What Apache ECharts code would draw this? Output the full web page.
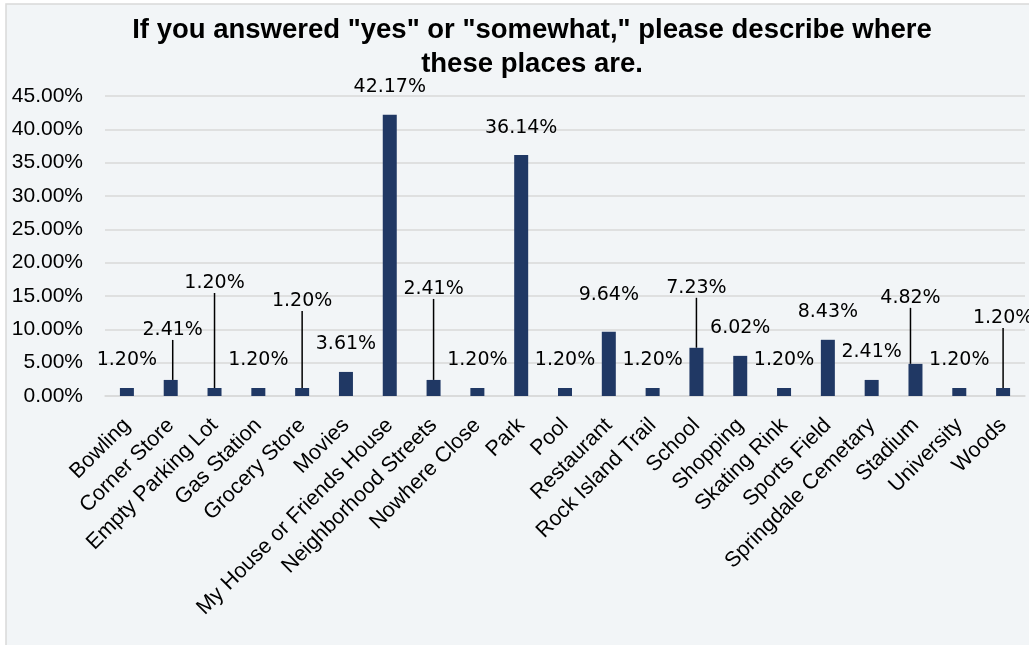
<!DOCTYPE html>
<html>
<head>
<meta charset="utf-8">
<script src="https://cdn.jsdelivr.net/npm/echarts@6/dist/echarts.min.js"></script>
<style>
  html, body { margin: 0; padding: 0; background: #ffffff; }
  #chart { width: 1029px; height: 645px; }
</style>
</head>
<body>
<div id="chart"></div>
<script>
// Survey answers: where these places are
const categories = [
  'Bowling', 'Corner Store', 'Empty Parking Lot', 'Gas Station', 'Grocery Store',
  'Movies', 'My House or Friends House', 'Neighborhood Streets', 'Nowhere Close', 'Park',
  'Pool', 'Restaurant', 'Rock Island Trail', 'School', 'Shopping',
  'Skating Rink', 'Sports Field', 'Springdale Cemetary', 'Stadium', 'University', 'Woods'
];

// Share of responses, in percent
const shares = [
  1.20, 2.41, 1.20, 1.20, 1.20,
  3.61, 42.17, 2.41, 1.20, 36.14,
  1.20, 9.64, 1.20, 7.23, 6.02,
  1.20, 8.43, 2.41, 4.82, 1.20, 1.20
];

// Value axis ticks (percent)
const yTicks = [0, 5, 10, 15, 20, 25, 30, 35, 40, 45];

// Label placement: extra lift (px) and sideways nudge per bar index
const labelLift = {
  1: { dx: 2, dy: -22 },
  2: { dx: 0, dy: -77 },
  4: { dx: 0, dy: -59 },
  7: { dx: 0, dy: -63 },
  11: { dx: 0, dy: -9 },
  13: { dx: 0, dy: -32 },
  18: { dx: -5, dy: -38 },
  20: { dx: 0, dy: -42 }
};
// Bars whose label hangs on a leader line
const withLeader = [1, 2, 4, 7, 13, 18, 20];

const barColor = '#203864';
const gridColor = '#d9d9d9';

const chart = echarts.init(document.getElementById('chart'), null, { renderer: 'canvas' });

const seriesData = shares.map((v, i) => ({
  value: v,
  labelLine: { show: withLeader.indexOf(i) >= 0 }
}));

const option = {
  backgroundColor: '#ffffff',
  animation: false,
  graphic: [{
    type: 'rect',
    z: -10,
    silent: true,
    shape: { x: 6, y: 4, width: 1100, height: 700 },
    style: { fill: '#f2f5f7', stroke: gridColor, lineWidth: 1.5 }
  }],
  title: {
    text: 'If you answered "yes" or "somewhat," please describe where\nthese places are.',
    left: 527,
    top: 8,
    textAlign: 'center',
    textStyle: {
      fontFamily: 'Liberation Sans, Arial, sans-serif',
      fontSize: 27.5,
      fontWeight: 'bold',
      color: '#000000',
      lineHeight: 34
    }
  },
  grid: {
    left: 105,
    right: 4,
    top: 96,
    bottom: 249,
    containLabel: false
  },
  xAxis: {
    type: 'category',
    data: categories,
    axisLine: { show: true, lineStyle: { color: gridColor, width: 1.5 } },
    axisTick: { show: false },
    axisLabel: {
      interval: 0,
      rotate: 45,
      margin: 26,
      fontFamily: 'Liberation Sans, Arial, sans-serif',
      fontSize: 21.5,
      color: '#000000'
    }
  },
  yAxis: {
    type: 'value',
    min: yTicks[0],
    max: yTicks[yTicks.length - 1],
    interval: yTicks[1] - yTicks[0],
    axisLine: { show: false },
    axisTick: { show: false },
    splitLine: { show: true, lineStyle: { color: gridColor, width: 1.5 } },
    axisLabel: {
      margin: 22,
      fontFamily: 'Liberation Sans, Arial, sans-serif',
      fontSize: 21,
      color: '#000000',
      formatter: (v) => v.toFixed(2) + '%'
    }
  },
  series: [{
    type: 'bar',
    data: seriesData,
    barWidth: 14,
    itemStyle: { color: barColor },
    label: {
      show: true,
      position: 'top',
      distance: 14,
      fontFamily: 'DejaVu Sans, sans-serif',
      fontSize: 19,
      color: '#000000',
      padding: [0, 0, 4, 0],
      formatter: (p) => p.value.toFixed(2) + '%'
    },
    labelLine: {
      show: false,
      lineStyle: { color: '#000000', width: 1.5 }
    },
    labelLayout: (params) => {
      const lift = labelLift[params.dataIndex];
      if (!lift) return {};
      return { dx: lift.dx, dy: lift.dy };
    }
  }]
};

chart.setOption(option);
</script>
</body>
</html>
